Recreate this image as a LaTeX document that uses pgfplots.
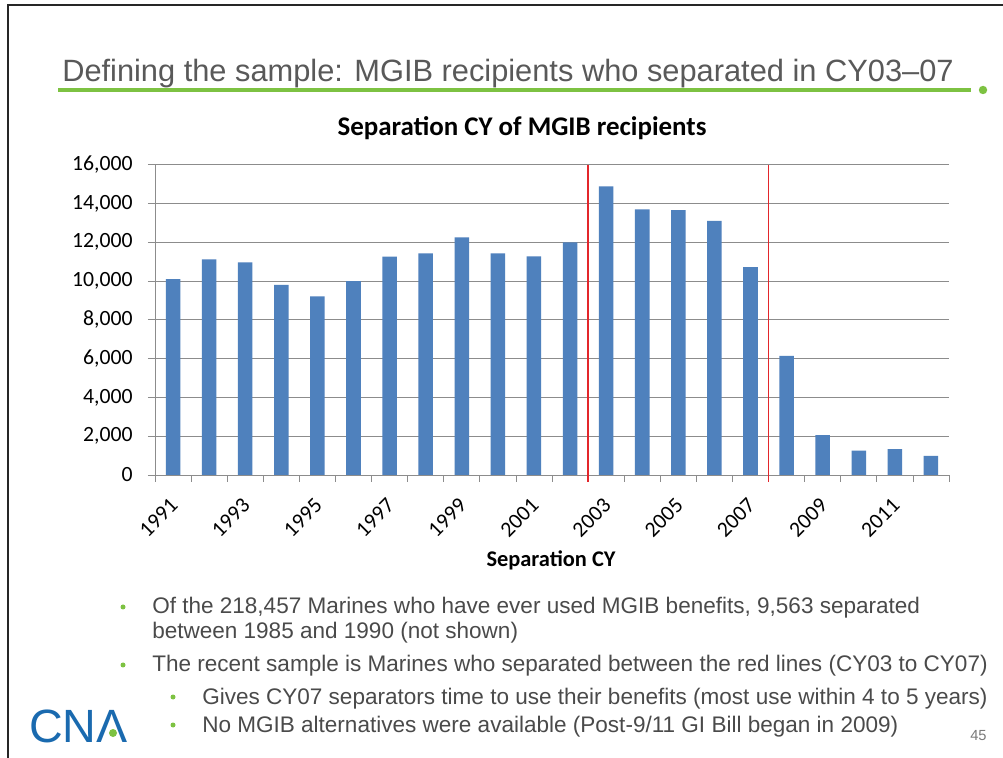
\documentclass[border=0pt]{standalone}
\usepackage{fontspec}
\usepackage{pgfplots}
\usepackage{pgfplotstable}
\pgfplotsset{compat=1.18}
\setmainfont{Liberation Sans}
\newfontfamily\carlito{Carlito}
\definecolor{barblue}{HTML}{4F81BD}
\definecolor{cnagreen}{HTML}{7DC242}
\definecolor{titlegray}{HTML}{595959}
\definecolor{textgray}{HTML}{4A4A4A}
\definecolor{gridgray}{HTML}{8C8C8C}
\definecolor{cnablue}{HTML}{1A6AAF}
\definecolor{redline}{HTML}{E3262B}

\pgfplotstableread{
idx val
0 10100
1 11120
2 10970
3 9810
4 9210
5 10000
6 11260
7 11430
8 12250
9 11430
10 11270
11 12000
12 14880
13 13700
14 13660
15 13100
16 10720
17 6140
18 2060
19 1260
20 1340
21 980
}\datatable

\begin{document}
\begin{tikzpicture}[x=0.75pt,y=0.75pt]
\useasboundingbox (0,0) rectangle (1003,757);
\fill[white] (0,0) rectangle (1003,757);
\draw[line width=1.5pt,black!85] (8,-2) -- (8,752) -- (1005,752);

% slide title
\node[anchor=base west, inner sep=0pt, text=titlegray, font=\fontsize{23.1}{25}\selectfont] at (62,675) {Defining the sample: MGIB recipients who separated in CY03–07};
\draw[cnagreen, line width=2.4pt] (58,667) -- (971,667);
\fill[cnagreen] (983,667) circle (4.2);

% chart title
\node[anchor=center, inner sep=0pt, font=\carlito\bfseries\fontsize{20.2}{22}\selectfont] at (522,629) {Separation CY of MGIB recipients};

\begin{axis}[
  at={(116.25pt,211.5pt)}, anchor=south west,
  scale only axis, width=595.5pt, height=232.7pt,
  xmin=-0.5, xmax=21.5, ymin=0, ymax=16000,
  axis lines*=left,
  axis line style={gridgray, line width=0.6pt},
  ymajorgrids, grid style={gridgray, line width=0.6pt},
  tick style={gridgray, line width=0.6pt},
  tick align=outside,
  major tick length=5.25pt, minor tick length=5.25pt,
  ytick={0,2000,...,16000},
  scaled y ticks=false,
  yticklabel style={font=\carlito\fontsize{16.3}{17}\selectfont, /pgf/number format/assume math mode=true, /pgf/number format/1000 sep={,}, xshift=-8pt},
  xtick={0,2,...,20},
  xticklabels={1991,1993,1995,1997,1999,2001,2003,2005,2007,2009,2011},
  minor xtick={-0.5,0.5,...,21.5},
  major x tick style={draw=none},
  xticklabel style={xshift=-3pt, yshift=-11pt, rotate=45, anchor=north east, font=\carlito\fontsize{16.3}{17}\selectfont, inner sep=0pt},
  clip=false,
]
\addplot[ybar, bar width=10.9pt, fill=barblue, draw=none] table[x=idx,y=val]{\datatable};
\draw[redline, line width=0.9pt] (axis cs:11.5,-360) -- (axis cs:11.5,16000);
\draw[redline, line width=0.9pt] (axis cs:16.5,-360) -- (axis cs:16.5,16000);
\end{axis}

\node[anchor=center, inner sep=0pt, font=\carlito\bfseries\fontsize{16.8}{18}\selectfont] at (551,197) {Separation CY};

% bullets
\begin{scope}[every node/.style={anchor=base west, inner sep=0pt, text=textgray, font=\fontsize{16.9}{18}\selectfont}]
\fill[cnagreen] (123,150) circle (2.5);
\node at (152,143) {Of the 218,457 Marines who have ever used MGIB benefits, 9,563 separated};
\node at (152,118) {between 1985 and 1990 (not shown)};
\fill[cnagreen] (123,92) circle (2.5);
\node at (152,85) {The recent sample is Marines who separated between the red lines (CY03 to CY07)};
\fill[cnagreen] (173,60) circle (2.5);
\node at (202,53) {Gives CY07 separators time to use their benefits (most use within 4 to 5 years)};
\fill[cnagreen] (173,32) circle (2.5);
\node at (202,25) {No MGIB alternatives were available (Post-9/11 GI Bill began in 2009)};
\end{scope}

% logo
\node[anchor=base west, inner sep=0pt, text=cnablue, font=\fontsize{35}{36}\selectfont] at (29,15) {CNΛ};
\fill[cnagreen] (113,24) circle (4);
\node[anchor=base west, inner sep=0pt, text=titlegray!80, font=\fontsize{11}{12}\selectfont] at (970,17) {45};
\end{tikzpicture}
\end{document}
